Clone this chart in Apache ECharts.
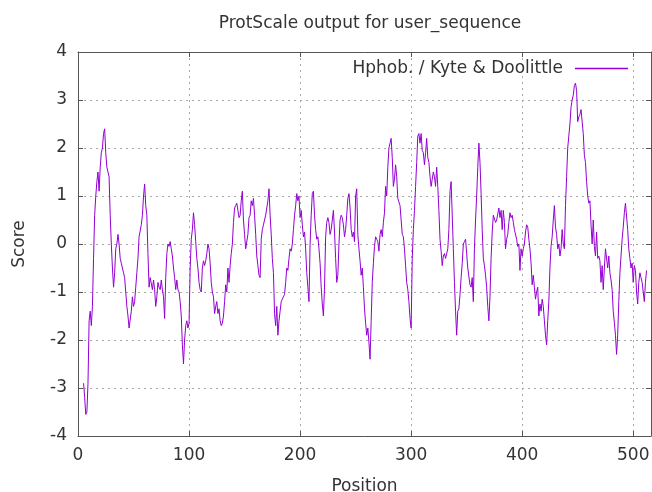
<!DOCTYPE html>
<html>
<head>
<meta charset="utf-8">
<script src="https://cdn.jsdelivr.net/npm/echarts@6/dist/echarts.min.js"></script>
<style>
  html, body { margin: 0; padding: 0; background: #fff; }
  #chart { width: 652px; height: 492px; }
</style>
</head>
<body>
<div id="chart"></div>
<script>
// window averages of Kyte & Doolittle hydropathy, one value per residue from position 5
const firstPos = 5
const scores = [
  -2.9, -3.2, -3.55, -3.5, -2.9, -1.6, -1.4, -1.7, -1.3, -0.3,
  0.6, 1.0, 1.3, 1.5, 1.1, 1.6, 1.9, 2.0, 2.3, 2.4,
  1.9, 1.6, 1.6, 1.4, 0.6, 0.0, -0.5, -0.9, -0.6, -0.1,
  0.0, 0.2, 0.0, -0.3, -0.4, -0.5, -0.6, -0.7, -1.0, -1.3,
  -1.5, -1.75, -1.75, -1.4, -1.1, -1.3, -1.2, -0.9, -0.6, -0.3,
  0.15, 0.15, 0.4, 0.6, 1.0, 1.25, 0.8, 0.6, -0.2, -0.9,
  -0.7, -0.7, -0.95, -0.75, -0.95, -1.3, -1.1, -0.8, -0.9, -0.95,
  -0.75, -0.95, -1.1, -1.55, -0.7, -0.2, 0.0, -0.05, 0.05, -0.1,
  -0.25, -0.5, -0.7, -0.95, -0.75, -0.95, -1.0, -1.2, -1.5, -2.1,
  -2.5, -2.0, -1.7, -1.6, -1.75, -1.65, -0.5, 0.1, 0.3, 0.65,
  0.4, 0.05, -0.3, -0.5, -0.8, -0.95, -1.0, -0.5, -0.35, -0.45,
  -0.35, -0.2, 0.0, -0.1, -0.4, -0.8, -1.0, -1.1, -1.45, -1.3,
  -1.2, -1.45, -1.35, -1.6, -1.7, -1.65, -1.5, -1.2, -0.85, -1.0,
  -0.5, -0.8, -0.45, -0.2, 0.0, 0.45, 0.75, 0.8, 0.85, 0.7,
  0.55, 0.6, 0.9, 1.1, 0.5, 0.2, -0.1, -0.1, 0.2, 0.55,
  0.6, 0.9, 0.8, 0.95, 0.6, 0.2, -0.25, -0.45, -0.65, -0.7,
  0.1, 0.3, 0.4, 0.5, 0.6, 0.75, 0.9, 1.15, 0.6, 0.2,
  -0.3, -0.6, -1.45, -1.7, -1.3, -1.9, -1.6, -1.4, -1.2, -1.15,
  -1.1, -1.05, -0.8, -0.5, -0.55, -0.3, -0.1, -0.15, 0.0, 0.3,
  0.6, 0.8, 1.05, 0.9, 1.0, 0.55, 0.7, 0.4, 0.15, 0.25,
  -0.1, -0.6, -0.9, -1.2, 0.0, 0.6, 1.05, 1.1, 0.6, 0.3,
  0.1, 0.15, -0.1, -0.4, -0.9, -1.25, -1.5, -0.9, 0.15, 0.45,
  0.55, 0.45, 0.2, 0.3, 0.5, 0.7, 0.25, -0.3, -0.8, -0.65,
  0.0, 0.5, 0.6, 0.55, 0.4, 0.15, 0.3, 0.6, 0.95, 1.05,
  0.75, 0.3, 0.15, 0.25, 0.05, 1.0, 1.15, 0.2, -0.1, -0.35,
  -0.65, -0.5, -0.9, -1.35, -1.65, -1.9, -1.75, -2.05, -2.4, -1.6,
  -0.8, -0.4, -0.05, 0.15, 0.1, 0.05, -0.15, 0.2, 0.3, 0.15,
  0.45, 0.65, 1.2, 1.0, 1.6, 2.0, 2.0, 2.2, 1.8, 1.2,
  1.35, 1.65, 1.4, 0.95, 0.95, 0.8, 0.5, 0.2, 0.15, -0.1,
  -0.45, -0.8, -0.95, -1.2, -1.55, -1.75, -0.3, 0.3, 0.7, 1.2,
  1.7, 2.25, 2.3, 2.1, 2.3, 1.95, 1.9, 1.65, 1.9, 2.2,
  1.8, 1.7, 1.4, 1.2, 1.35, 1.5, 1.4, 1.2, 1.6, 1.2,
  0.7, 0.1, -0.15, -0.45, -0.25, -0.2, -0.3, -0.3, -0.1, 0.3,
  1.1, 1.3, 0.6, -0.1, -0.8, -1.4, -1.9, -1.4, -1.35, -1.05,
  -0.7, -0.4, 0.0, 0.05, 0.1, -0.2, -0.5, -0.5, -0.85, -0.9,
  -0.7, -1.2, -0.1, 0.5, 1.0, 1.6, 2.1, 1.7, 1.05, 0.3,
  -0.3, -0.45, -0.65, -0.9, -1.3, -1.6, -1.1, -0.3, 0.25, 0.6,
  0.6, 0.45, 0.5, 0.5, 0.75, 0.55, 0.7, 0.3, 0.7, 0.45,
  -0.1, 0.1, 0.2, 0.45, 0.65, 0.55, 0.6, 0.45, 0.3, 0.3,
  0.1, -0.05, 0.0, -0.55, -0.1, -0.25, -0.1, 0.0, 0.25, 0.4,
  0.35, 0.1, -0.1, -0.4, -0.85, -0.65, -0.9, -1.15, -1.0, -0.9,
  -1.5, -1.25, -1.4, -1.15, -1.3, -1.6, -1.9, -2.1, -1.6, -1.2,
  -0.5, -0.05, 0.15, 0.5, 0.8, 0.35, 0.2, -0.1, 0.0, -0.25,
  -0.1, 0.3, 0.0, -0.1, 0.8, 1.4, 2.0, 2.0, 2.5, 2.85,
  3.0, 3.1, 3.3, 3.35, 3.2, 2.55, 2.65, 2.7, 2.8, 2.8,
  2.3, 1.85, 1.7, 1.3, 1.0, 0.85, 0.9, 0.4, 0.0, 0.5,
  -0.05, -0.25, 0.25, -0.3, -0.25, -0.35, -0.8, -0.45, -0.95, -0.5,
  -0.1, -0.1, -0.5, -0.25, -0.6, -0.75, -0.95, -1.4, -1.63, -1.9,
  -2.3, -1.9, -1.2, -0.6, -0.25, 0.1, 0.35, 0.65, 0.85, 0.85,
  0.3, -0.1, -0.3, -0.5, -0.4, -0.8, -0.45, -0.55, -1.0, -1.25,
  -0.8, -0.6, -0.7, -0.8, -1.0, -1.2, -0.8, -0.55
]
const xTicks = [0, 100, 200, 300, 400, 500]
const yTicks = [-4, -3, -2, -1, 0, 1, 2, 3, 4]
const seriesName = 'Hphob. / Kyte & Doolittle'

const chart = echarts.init(document.getElementById('chart'), null, { renderer: 'canvas' })

const textColor = '#333'
const frameColor = '#555'
const gridColor = '#a8a8a8'
const font = 'DejaVu Sans'
const fontSize = 17

const points = scores.map((v, i) => [firstPos + i, v])

// gnuplot-like frame: axis lines on all four sides, ticks pointing in
function frameAxis(extra) {
  return Object.assign({
    type: 'value',
    axisLine: { show: true, onZero: false, lineStyle: { color: frameColor, width: 1 } },
    axisTick: { show: true, inside: true, length: 5, lineStyle: { color: frameColor } },
    axisLabel: { show: false },
    splitLine: { show: false },
  }, extra)
}

chart.setOption({
  animation: false,
  backgroundColor: '#fff',
  textStyle: { fontFamily: font },
  title: {
    text: 'ProtScale output for user_sequence',
    left: 365,
    textAlign: 'center',
    top: 10,
    textStyle: { fontFamily: font, fontSize: fontSize, fontWeight: 'normal', color: textColor },
  },
  legend: {
    data: [seriesName],
    right: 19,
    top: 55,
    align: 'right',
    icon: 'rect',
    itemWidth: 53,
    itemHeight: 1.5,
    itemGap: 0,
    textStyle: { fontFamily: font, fontSize: fontSize, color: textColor, padding: [0, 7, 0, 0] },
  },
  grid: { left: 78, right: 1, top: 52, bottom: 56, containLabel: false, outerBoundsMode: 'none' },
  xAxis: [
    frameAxis({
      min: 0,
      max: 516,
      interval: 100,
      position: 'bottom',
      name: 'Position',
      nameLocation: 'middle',
      nameGap: 42,
      nameTextStyle: { fontFamily: font, fontSize: fontSize, color: textColor },
      axisLabel: {
        show: true,
        margin: 11,
        fontFamily: font,
        fontSize: fontSize,
        color: textColor,
        showMaxLabel: false,
        formatter: v => (xTicks.includes(v) ? String(v) : ''),
      },
      splitLine: { show: true, lineStyle: { color: gridColor, type: [2, 4], width: 1 } },
    }),
    frameAxis({ min: 0, max: 516, interval: 100, position: 'top' }),
  ],
  yAxis: [
    frameAxis({
      min: yTicks[0],
      max: yTicks[yTicks.length - 1],
      interval: 1,
      position: 'left',
      name: 'Score',
      nameLocation: 'middle',
      nameGap: 50,
      nameRotate: 90,
      nameTextStyle: { fontFamily: font, fontSize: fontSize, color: textColor },
      axisLabel: { show: true, margin: 11, fontFamily: font, fontSize: fontSize, color: textColor },
      splitLine: { show: true, lineStyle: { color: gridColor, type: [2, 4], width: 1 } },
    }),
    frameAxis({ min: -4, max: 4, interval: 1, position: 'right' }),
  ],
  series: [{
    name: seriesName,
    type: 'line',
    data: points,
    showSymbol: false,
    symbol: 'none',
    lineStyle: { color: '#9400d3', width: 1 },
    itemStyle: { color: '#9400d3' },
    z: 3,
  }],
})
</script>
</body>
</html>
